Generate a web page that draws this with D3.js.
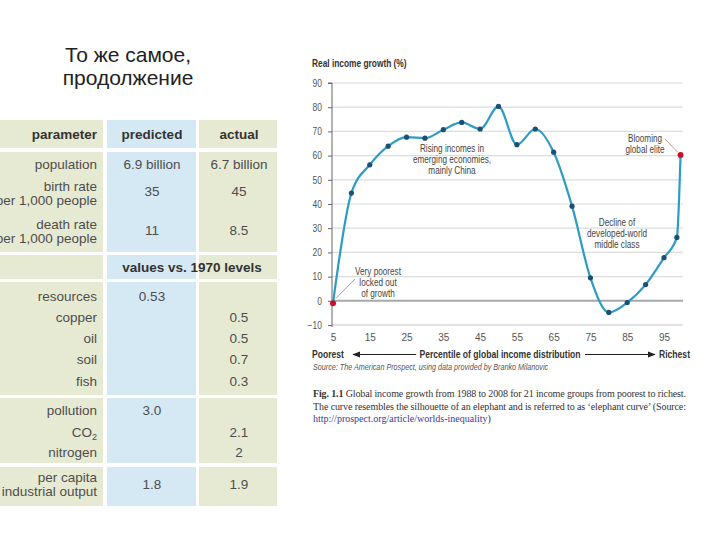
<!DOCTYPE html>
<html><head><meta charset="utf-8">
<script src="https://cdn.jsdelivr.net/npm/d3@7"></script>
<style>
body{margin:0;background:#fff;}
svg{display:block;}
</style></head>
<body><svg id="c" width="720" height="540"></svg>
<script>
// ---------- data ----------
const titleLines = ["То же самое,", "продолжение"];
const tableHeaders = ["parameter", "predicted", "actual"];
const block1Labels = [["population"], ["birth rate", "per 1,000 people"], ["death rate", "per 1,000 people"]];
const block1Predicted = ["6.9 billion", "35", "11"];
const block1Actual = ["6.7 billion", "45", "8.5"];
const subHeader = "values vs. 1970 levels";
const resourceLabels = ["resources", "copper", "oil", "soil", "fish"];
const resourcePredicted = ["0.53", "", "", "", ""];
const resourceActual = ["", "0.5", "0.5", "0.7", "0.3"];
const pollutionLabels = ["pollution", "CO2", "nitrogen"];
const pollutionPredicted = ["3.0", "", ""];
const pollutionActual = ["", "2.1", "2"];
const outputLabels = ["per capita", "industrial output"];
const outputPredicted = ["1.8"];
const outputActual = ["1.9"];

const percentiles = [5,10,15,20,25,30,35,40,45,50,55,60,65,70,75,80,85,90,95,98.5,99.5];
const growth = [-1,44.5,56.2,63.9,67.6,67.2,70.7,73.7,71,80.3,64.5,71,61.4,39.1,9.5,-4.8,-0.7,6.7,17.8,26.2,60.2];
const yTicks = [-10,0,10,20,30,40,50,60,70,80,90];
const xTicks = [5,15,25,35,45,55,65,75,85,95];
const chartTitle = "Real income growth (%)";
const xAxisLabels = ["Poorest", "Percentile of global income distribution", "Richest"];
const annotations = [
  {lines:["Rising incomes in","emerging economies,","mainly China"]},
  {lines:["Blooming","global elite"]},
  {lines:["Decline of","developed-world","middle class"]},
  {lines:["Very poorest","locked out","of growth"]}
];
const sourceText = "Source: The American Prospect, using data provided by Branko Milanovic";
const captionLines = [
  ["Fig. 1.1", "  Global income growth from 1988 to 2008 for 21 income groups from poorest to richest."],
  ["", "The curve resembles the silhouette of an elephant and is referred to as \u2018elephant curve\u2019 (Source:"],
  ["http://prospect.org/article/worlds-inequality", ")"]
];

// ---------- drawing ----------
const svg = d3.select("#c");
const sans = "'Liberation Sans', Arial, sans-serif";
const SX = 0.78;

function ctext(parent, xx, yy, s, anchor, size, opts={}){
  const g = parent.append("g").attr("transform",`translate(${xx},${yy}) scale(${opts.sx||SX},1)`);
  return g.append("text").attr("x",0).attr("y",0).attr("text-anchor",anchor||"start")
    .attr("font-family",sans).attr("font-size",size)
    .attr("font-weight",opts.bold?"bold":"normal")
    .attr("font-style",opts.italic?"italic":"normal")
    .attr("fill",opts.fill||"#444").text(s);
}

// title
svg.append("g").selectAll("text").data(titleLines).join("text")
  .attr("x", 128).attr("y", (d,i)=>62+i*23)
  .attr("text-anchor","middle").attr("font-family",sans).attr("font-size",21).attr("fill","#222")
  .text(d=>d);

// table
const beige = "#e7ead2", blue = "#d4e9f4";
const cols = [{x:0,w:103,fill:beige},{x:107,w:89,fill:blue},{x:199,w:78,fill:beige}];
const bands = [[120,148],[152,252],[255,279],[282,395],[398,463],[467,506]];
const tg = svg.append("g");
bands.forEach(b=>{
  cols.forEach(c=>{
    tg.append("rect").attr("x",c.x).attr("y",b[0]).attr("width",c.w).attr("height",b[1]-b[0]).attr("fill",c.fill);
  });
});
const labX = 97, predX = 152, actX = 239;
function txt(x,y,s,anchor,opts={}){
  return tg.append("text").attr("x",x).attr("y",y).attr("text-anchor",anchor)
    .attr("font-family",sans).attr("font-size",opts.size||13.5)
    .attr("font-weight",opts.bold?"bold":"normal").attr("fill",opts.fill||"#4d4d4d").text(s);
}
txt(labX,139,tableHeaders[0],"end",{bold:true,fill:"#333"});
txt(predX,139,tableHeaders[1],"middle",{bold:true,fill:"#333"});
txt(actX,139,tableHeaders[2],"middle",{bold:true,fill:"#333"});
const b1Y = [[169],[191,205],[229,243]];
const b1V = [169,196,235];
block1Labels.forEach((ls,i)=>{
  ls.forEach((l,j)=>txt(labX,b1Y[i][j],l,"end"));
  txt(predX,b1V[i],block1Predicted[i],"middle");
  txt(actX,b1V[i],block1Actual[i],"middle");
});
txt(192,272,subHeader,"middle",{bold:true,fill:"#333"});
const rY = [301,322,343,364,386];
resourceLabels.forEach((l,i)=>{
  txt(labX,rY[i],l,"end");
  if(resourcePredicted[i]) txt(predX,rY[i],resourcePredicted[i],"middle");
  if(resourceActual[i]) txt(actX,rY[i],resourceActual[i],"middle");
});
const pY = [415,437,457];
pollutionLabels.forEach((l,i)=>{
  if(l==="CO2"){
    const t = txt(labX,pY[i],"","end");
    t.append("tspan").text("CO");
    t.append("tspan").attr("font-size",9).attr("dy",3).text("2");
  } else txt(labX,pY[i],l,"end");
  if(pollutionPredicted[i]) txt(predX,pY[i],pollutionPredicted[i],"middle");
  if(pollutionActual[i]) txt(actX,pY[i],pollutionActual[i],"middle");
});
txt(labX,482,outputLabels[0],"end");
txt(labX,496,outputLabels[1],"end");
txt(predX,489,outputPredicted[0],"middle");
txt(actX,489,outputActual[0],"middle");

// chart
const x = d3.scaleLinear().domain([5,95]).range([333,664]);
const y = d3.scaleLinear().domain([-10,90]).range([325,83]);
const cg = svg.append("g");
const gridRight = 683, axisX = 332;

cg.append("g").selectAll("line").data(yTicks.filter(t=>t!==0)).join("line")
  .attr("x1",axisX).attr("x2",gridRight).attr("y1",d=>y(d)).attr("y2",d=>y(d))
  .attr("stroke",d=>d===-10?"#c4c4c4":"#dcdcdc").attr("stroke-width",1.2);
cg.append("line").attr("x1",axisX).attr("x2",gridRight).attr("y1",y(0)).attr("y2",y(0))
  .attr("stroke","#a8a8a8").attr("stroke-width",2);

const yAxis = cg.append("g").attr("transform",`translate(${axisX},0)`)
  .call(d3.axisLeft(y).tickValues(yTicks).tickSize(4).tickPadding(6));
yAxis.select(".domain").attr("d",`M-4,${y(90)}H0V${y(-10)+2}`).attr("stroke","#666").attr("stroke-width",1);
yAxis.selectAll(".tick line").attr("stroke","#666");
yAxis.selectAll("text").attr("font-family",sans).attr("font-size",10).attr("fill","#555")
  .attr("transform","scale(0.85,1)").attr("x",-10/0.85);

const xAxis = cg.append("g").attr("transform",`translate(0,${y(-10)})`)
  .call(d3.axisBottom(x).tickValues(xTicks).tickSize(0).tickPadding(9));
xAxis.select(".domain").remove();
xAxis.selectAll("text").attr("font-family",sans).attr("font-size",10).attr("fill","#555");

const pts = percentiles.map((p,i)=>({p,v:growth[i]}));
cg.append("path").datum(pts)
  .attr("d",d3.line().x(d=>x(d.p)).y(d=>y(d.v)).curve(d3.curveMonotoneX))
  .attr("fill","none").attr("stroke","#2d9cc4").attr("stroke-width",2.2);

// leader lines
cg.append("line").attr("x1",x(percentiles[0])+3).attr("y1",y(growth[0])-5).attr("x2",355).attr("y2",279)
  .attr("stroke","#c9848f").attr("stroke-width",0.9);
const last = pts[pts.length-1];
cg.append("line").attr("x1",x(last.p)-3).attr("y1",y(last.v)-3).attr("x2",665).attr("y2",139)
  .attr("stroke","#c9848f").attr("stroke-width",0.9);

cg.append("g").selectAll("circle").data(pts).join("circle")
  .attr("cx",d=>x(d.p)).attr("cy",d=>y(d.v))
  .attr("r",(d,i)=>(i===0||i===pts.length-1)?3:2.6)
  .attr("fill",(d,i)=>(i===0||i===pts.length-1)?"#c8102e":"#1d4f73");

// chart title
ctext(cg,312,67,chartTitle,"start",11,{bold:true,fill:"#333",sx:0.76});

// annotations
const annPos = [{x:452,y:152},{x:645,y:142},{x:617,y:226},{x:378,y:275}];
annotations.forEach((a,k)=>{
  a.lines.forEach((l,i)=>ctext(cg,annPos[k].x,annPos[k].y+i*10.8,l,"middle",10.5,{fill:"#444"}));
});

// x axis labels and arrows
const defs = svg.append("defs");
defs.append("marker").attr("id","ah").attr("viewBox","0 0 10 10").attr("refX",9).attr("refY",5)
  .attr("markerWidth",8).attr("markerHeight",8).attr("orient","auto-start-reverse")
  .append("path").attr("d","M0,1L10,5L0,9Z").attr("fill","#222");
ctext(cg,312,358,xAxisLabels[0],"start",11,{bold:true,fill:"#333"});
ctext(cg,500,358,xAxisLabels[1],"middle",11,{bold:true,fill:"#333"});
ctext(cg,690,358,xAxisLabels[2],"end",11,{bold:true,fill:"#333"});
cg.append("line").attr("x1",416).attr("x2",353).attr("y1",354.5).attr("y2",354.5).attr("stroke","#222").attr("stroke-width",1).attr("marker-end","url(#ah)");
cg.append("line").attr("x1",585).attr("x2",655).attr("y1",354.5).attr("y2",354.5).attr("stroke","#222").attr("stroke-width",1).attr("marker-end","url(#ah)");

// source
ctext(cg,313,370,sourceText,"start",8.8,{italic:true,fill:"#555",sx:0.82});

// caption
const serif = "'Liberation Serif','Times New Roman',serif";
const capY = [397,410,422];
const capW = [373,373,0];
captionLines.forEach((ln,i)=>{
  const t = svg.append("text").attr("x",313).attr("y",capY[i]).attr("font-family",serif).attr("font-size",10).attr("fill","#333");
  if(i===2){
    t.append("tspan").attr("fill","#3a3a9c").text(ln[0]);
    t.append("tspan").text(ln[1]);
  } else {
    if(ln[0]) t.append("tspan").attr("font-weight","bold").text(ln[0]);
    t.append("tspan").text(ln[1]);
    t.attr("textLength",capW[i]).attr("lengthAdjust","spacing");
  }
});
</script></body></html>
